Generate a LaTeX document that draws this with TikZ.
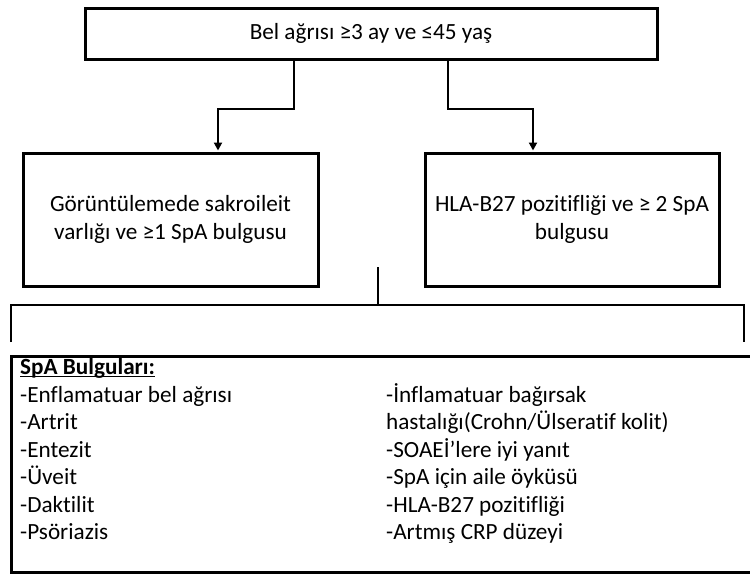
\documentclass[tikz,border=0pt]{standalone}
\usepackage{fontspec}
\setmainfont{Carlito}[Ligatures=NoCommon]
\usetikzlibrary{arrows.meta}

\tikzset{
  box/.style={draw, line width=3pt, align=center, inner sep=0pt, font=\fontsize{23.2}{28}\selectfont},
  item/.style={anchor=base west, inner sep=0pt, font=\fontsize{23.2}{28}\selectfont},
  arr/.style={line width=2pt, -{Triangle[length=8pt,width=8pt]}, shorten >=1pt},
  brk/.style={line width=2pt}
}

\begin{document}
\begin{tikzpicture}[x=1pt,y=-1pt]
                \useasboundingbox (0,0) rectangle (750,574);

                \node[box, minimum width=572pt, minimum height=51pt] (top) at (371, 33.5) {Bel ağrısı ≥3 ay ve ≤45 yaş};
                \node[box, minimum width=295pt, minimum height=133pt] (img) at (170.5, 219.5) {Görüntülemede sakroileit\\varlığı ve ≥1 SpA bulgusu};
                \node[box, minimum width=294pt, minimum height=133pt] (hla) at (572, 219.5) {HLA-B27 pozitifliği ve ≥ 2 SpA\\bulgusu};
                \node[box, minimum width=760pt, minimum height=216pt, anchor=north west] (spa) at (10, 355) {};

                \draw[arr] ([xshift=-77pt]top.south) -- ++(0, 48) -| ([xshift=47.5pt]img.north);
                \draw[arr] ([xshift=77pt]top.south) -- ++(0, 48) -| ([xshift=-39pt]hla.north);

                \coordinate (stem) at (378, 267);
                \coordinate (bl) at (11, 342);
                \coordinate (br) at (744, 342);
                \draw[brk]
                (stem) -- (stem |- 0, 305)
                (bl) |- (br |- 0, 305) -- (br);

                \node[item] (hd) at (20, 374) {\textbf{SpA Bulguları:}};
                \draw[line width=1.5pt] ([yshift=-2.5pt]hd.base west) -- ([yshift=-2.5pt]hd.base east);
                \node[item] (l1) at (20, 402) {-Enflamatuar bel ağrısı};
                \node[item] (l2) at (20, 429.5) {-Artrit};
                \node[item] (l3) at (20, 457) {-Entezit};
                \node[item] (l4) at (20, 484.5) {-Üveit};
                \node[item] (l5) at (20, 512) {-Daktilit};
                \node[item] (l6) at (20, 539.5) {-Psöriazis};

                \node[item] (r1) at (386, 402) {-İnflamatuar bağırsak};
                \node[item] (r2) at (386, 429.5) {hastalığı(Crohn/Ülseratif kolit)};
                \node[item] (r3) at (386, 457) {-SOAEİ’lere iyi yanıt};
                \node[item] (r4) at (386, 484.5) {-SpA için aile öyküsü};
                \node[item] (r5) at (386, 512) {-HLA-B27 pozitifliği};
                \node[item] (r6) at (386, 539.5) {-Artmış CRP düzeyi};
\end{tikzpicture}
\end{document}
